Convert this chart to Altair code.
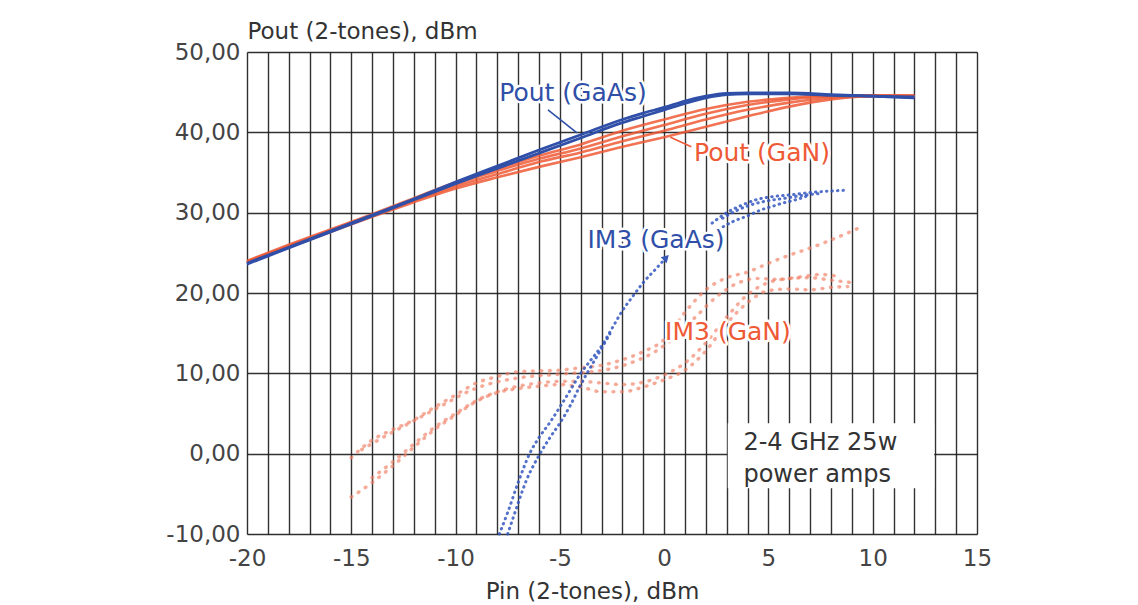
import altair as alt
import pandas as pd

# ---------------- data ----------------
pout_gaas_x = [-20, -18, -16, -14, -12, -10, -8, -6, -4, -2, -1, 0, 1, 2, 3, 4, 6, 8, 10, 12]
pout_gaas_1 = [23.7, 25.7, 27.7, 29.7, 31.7, 33.8, 35.8, 37.8, 39.7, 41.6, 42.4, 43.1, 43.9, 44.5, 44.85, 44.9, 44.9, 44.7, 44.5, 44.3]
pout_gaas_2 = [23.6, 25.6, 27.6, 29.6, 31.6, 33.6, 35.5, 37.4, 39.3, 41.2, 42.0, 42.8, 43.6, 44.3, 44.7, 44.8, 44.8, 44.6, 44.5, 44.4]

pout_gan_x = [-20, -18, -16, -14, -12, -10, -8, -6, -4, -2, 0, 2, 4, 6, 8, 10, 12]
pout_gan_1 = [23.8, 25.7, 27.6, 29.5, 31.3, 33.0, 34.4, 35.7, 36.9, 38.2, 39.4, 40.7, 42.0, 43.2, 44.1, 44.5, 44.5]
pout_gan_2 = [23.9, 25.8, 27.7, 29.6, 31.5, 33.3, 34.8, 36.3, 37.5, 38.9, 40.2, 41.6, 42.8, 43.7, 44.3, 44.5, 44.4]
pout_gan_3 = [23.9, 25.9, 27.8, 29.7, 31.6, 33.6, 35.2, 36.7, 38.0, 39.5, 40.9, 42.3, 43.4, 44.1, 44.5, 44.6, 44.5]
pout_gan_4 = [24.0, 26.0, 27.9, 29.8, 31.8, 33.8, 35.5, 37.1, 38.5, 40.2, 41.6, 42.9, 43.8, 44.3, 44.6, 44.6, 44.6]

# IM3 GaAs (lower part, below the label)
im3_gaas_a_x = [-7.9, -7.5, -7.0, -6.45, -6.0, -5.5, -5.0, -4.5, -4.0, -3.5, -3.0, -2.5, -2.0, -1.5, -1.0, -0.4, 0.1]
im3_gaas_a_y = [-10.0, -7.3, -3.6, 0.0, 2.0, 3.8, 5.8, 7.9, 10.0, 11.7, 13.4, 15.6, 17.8, 19.6, 21.3, 23.0, 24.4]
im3_gaas_b_x = [-7.5, -7.15, -6.6, -5.95, -5.5, -5.0, -4.5, -4.1, -3.7, -3.2, -2.6]
im3_gaas_b_y = [-10.0, -7.3, -3.3, 0.0, 1.9, 3.8, 6.0, 8.1, 10.0, 12.2, 14.9]
# IM3 GaAs (upper part, right of the label)
im3_gaas_c_x = [2.3, 3.0, 3.7, 4.4, 5.2, 6.0, 7.0, 8.0, 8.8]
im3_gaas_c_y = [28.7, 30.0, 30.9, 31.6, 32.0, 32.2, 32.5, 32.7, 32.8]
im3_gaas_d_x = [2.8, 3.5, 4.2, 5.0, 5.8, 6.5, 7.5]
im3_gaas_d_y = [29.3, 30.3, 31.0, 31.5, 31.8, 32.1, 32.4]
im3_gaas_e_x = [2.6, 3.3, 4.0, 4.6, 5.2, 5.7, 6.3, 7.0]
im3_gaas_e_y = [27.9, 28.9, 29.6, 30.3, 30.8, 31.2, 31.6, 32.2]

# IM3 GaN
im3_gan_1_x = [-15, -14, -13, -12, -11, -10, -9, -8, -7, -6, -5, -4, -3, -2, -1, 0, 1, 2, 3, 4, 5, 6, 7, 8, 9, 9.5]
im3_gan_1_y = [-0.5, 1.7, 3.0, 4.2, 5.8, 7.3, 8.8, 9.6, 10.2, 10.3, 10.4, 10.7, 11.0, 11.7, 12.7, 14.2, 17.6, 20.4, 21.9, 22.6, 23.7, 24.7, 25.6, 26.6, 27.7, 28.3]
im3_gan_2_x = [-14.5, -13.5, -12.5, -11.5, -10.5, -9.5, -8.5, -7.5, -6.5, -5.5, -4.5, -3.5, -2.5, -1.5, -0.5, 0.5, 1.5, 2.5, 3.5, 4.5, 5.5, 6.5, 7.5, 8.5]
im3_gan_2_y = [0.5, 2.0, 3.4, 4.8, 6.2, 7.6, 8.6, 9.2, 9.6, 9.8, 10.0, 10.2, 10.6, 11.4, 12.6, 14.5, 17.0, 19.5, 21.2, 21.8, 21.7, 22.0, 22.3, 22.0]
im3_gan_3_x = [-15, -14, -13, -12, -11, -10, -9, -8, -7, -6, -5, -4, -3, -2, -1, 0, 1, 2, 3, 4, 5, 6, 7, 8, 8.8]
im3_gan_3_y = [-5.4, -3.6, -1.5, 0.8, 3.0, 4.8, 6.5, 7.6, 8.1, 8.4, 8.6, 8.3, 7.7, 7.7, 8.3, 9.2, 10.4, 12.8, 16.2, 18.8, 20.3, 20.5, 20.4, 20.7, 20.8]
im3_gan_4_x = [-14, -13, -12, -11, -10, -9, -8, -7, -6, -5, -4, -3, -2, -1, 0, 1, 2, 3, 4, 5, 6, 7, 8, 9]
im3_gan_4_y = [-3.0, -1.0, 1.2, 3.3, 5.0, 6.6, 7.7, 8.4, 8.8, 9.0, 9.0, 8.8, 8.6, 8.9, 9.8, 11.3, 13.8, 17.0, 19.8, 21.3, 21.8, 21.9, 21.6, 21.3]

# labels
label_text = ["Pout (GaAs)", "Pout (GaN)", "IM3 (GaAs)", "IM3 (GaN)"]
label_x = [-4.37, 4.69, -0.39, 3.06]
label_y = [44.9, 37.4, 26.6, 15.2]
label_group = ["GaAs", "GaN", "GaAs", "GaN"]

# leader lines
leader_x = [-5.57, 0.3]
leader_y = [42.8, 39.4]
leader_x2 = [-4.18, 1.3]
leader_y2 = [39.94, 38.2]
leader_group = ["GaAs", "GaN"]

# arrow head of IM3 (GaAs) pointer
arrow_x = [0.1]
arrow_y = [24.4]

# note box
note_x, note_x2, note_y, note_y2 = [3.05], [12.95], [-4.3], [3.8]
note_lines = ["2-4 GHz 25w", "power amps"]
note_line_x = [3.8, 3.8]
note_line_y = [1.33, -2.65]

x_ticks = list(range(-20, 16))
y_ticks = [-10, 0, 10, 20, 30, 40, 50]

# ---------------- tables ----------------
def long(xs, ys, name):
    return pd.DataFrame({"x": xs, "y": ys, "curve": name})

pout_gaas = pd.concat([long(pout_gaas_x, pout_gaas_1, "a"), long(pout_gaas_x, pout_gaas_2, "b")])
pout_gan = pd.concat([long(pout_gan_x, pout_gan_1, "1"), long(pout_gan_x, pout_gan_2, "2"),
                      long(pout_gan_x, pout_gan_3, "3"), long(pout_gan_x, pout_gan_4, "4")])
im3_gaas = pd.concat([long(im3_gaas_a_x, im3_gaas_a_y, "a"), long(im3_gaas_b_x, im3_gaas_b_y, "b"),
                      long(im3_gaas_c_x, im3_gaas_c_y, "c"), long(im3_gaas_d_x, im3_gaas_d_y, "d"),
                      long(im3_gaas_e_x, im3_gaas_e_y, "e")])
im3_gan = pd.concat([long(im3_gan_1_x, im3_gan_1_y, "1"), long(im3_gan_2_x, im3_gan_2_y, "2"),
                     long(im3_gan_3_x, im3_gan_3_y, "3"), long(im3_gan_4_x, im3_gan_4_y, "4")])
labels = pd.DataFrame({"t": label_text, "x": label_x, "y": label_y, "g": label_group})
leaders = pd.DataFrame({"x": leader_x, "y": leader_y, "x2": leader_x2, "y2": leader_y2, "g": leader_group})
arrow = pd.DataFrame({"x": arrow_x, "y": arrow_y})
note_box = pd.DataFrame({"x": note_x, "x2": note_x2, "y": note_y, "y2": note_y2})
note_txt = pd.DataFrame({"t": note_lines, "x": note_line_x, "y": note_line_y})

BLUE = "#2f4fa8"
BLUE_TXT = "#3a58b8"
ORANGE = "#ee5a36"
ORANGE_TXT = "#f07a58"
FONT = "DejaVu Sans"

xs = alt.Scale(domain=[-20, 15], nice=False, zero=False)
ys = alt.Scale(domain=[-10, 50], nice=False, zero=False)

x_axis = alt.Axis(values=x_ticks, tickCount=60, grid=True, ticks=False, domain=False,
                  labelExpr="datum.value % 5 === 0 ? '' + datum.value : ''", labelFlush=False,
                  labelFont=FONT, labelFontSize=23, labelColor="#444", labelPadding=13,
                  title="Pin (2-tones), dBm", titleFont=FONT, titleFontSize=23, titleFontWeight="normal",
                  titleColor="#333", titleX=345, titleY=64, titleBaseline="alphabetic", titleAlign="center",
                  gridColor="#1c1c1c", gridWidth=1.4, gridOpacity=0.9, labelOverlap=False)
y_axis = alt.Axis(values=y_ticks, tickCount=20, grid=True, ticks=False, domain=False,
                  labelExpr="datum.value + ',00'", labelFlush=False,
                  labelFont=FONT, labelFontSize=23, labelColor="#444", labelPadding=7,
                  title="Pout (2-tones), dBm", titleFont=FONT, titleFontSize=23, titleFontWeight="normal",
                  titleColor="#333", titleAngle=0, titleAlign="left", titleBaseline="alphabetic",
                  titleX=0, titleY=-14,
                  gridColor="#1c1c1c", gridWidth=1.4, gridOpacity=0.9)

X = lambda f="x": alt.X(f"{f}:Q", scale=xs, axis=x_axis)
Y = lambda f="y": alt.Y(f"{f}:Q", scale=ys, axis=y_axis)

base_axes = alt.Chart(pout_gan).mark_line(opacity=0).encode(x=X(), y=Y(), detail="curve:N")

l_pout_gan = alt.Chart(pout_gan).mark_line(color=ORANGE, strokeWidth=2.6, opacity=0.85, interpolate="monotone").encode(
    x="x:Q", y="y:Q", detail="curve:N")
l_pout_gaas = alt.Chart(pout_gaas).mark_line(color=BLUE, strokeWidth=2.8, interpolate="monotone").encode(
    x="x:Q", y="y:Q", detail="curve:N")
l_im3_gan = alt.Chart(im3_gan).mark_line(color="#f07a5e", strokeWidth=3.6, opacity=0.6, strokeDash=[0.5, 8],
                                         strokeCap="round", interpolate="monotone").encode(
    x="x:Q", y="y:Q", detail="curve:N")
l_im3_gan_thin = alt.Chart(im3_gan).mark_line(color="#f5a090", strokeWidth=1, opacity=0.45, strokeDash=[3, 5.5],
                                              interpolate="monotone").encode(
    x="x:Q", y="y:Q", detail="curve:N")
l_im3_gaas = alt.Chart(im3_gaas).mark_line(color="#3558c0", strokeWidth=3, opacity=0.85, strokeDash=[0.5, 5],
                                           strokeCap="round", interpolate="monotone").encode(
    x="x:Q", y="y:Q", detail="curve:N")

l_leaders = alt.Chart(leaders).mark_rule(strokeWidth=1.6).encode(
    x="x:Q", y="y:Q", x2="x2:Q", y2="y2:Q",
    color=alt.Color("g:N", scale=alt.Scale(domain=["GaAs", "GaN"], range=[BLUE, ORANGE]), legend=None))
l_arrow = alt.Chart(arrow).mark_point(shape="triangle-up", filled=True, size=70, angle=45, color=BLUE_TXT,
                                      opacity=1).encode(x="x:Q", y="y:Q")

lab_color = alt.Color("g:N", scale=alt.Scale(domain=["GaAs", "GaN"], range=[BLUE_TXT, ORANGE_TXT]), legend=None)
l_halo = alt.Chart(labels).mark_text(font=FONT, fontSize=25, align="center", baseline="middle",
                                     stroke="white", strokeWidth=5, strokeJoin="round", fill="white").encode(
    x="x:Q", y="y:Q", text="t:N")
l_labels = alt.Chart(labels).mark_text(font=FONT, fontSize=25, align="center", baseline="middle").encode(
    x="x:Q", y="y:Q", text="t:N", color=lab_color)

l_box = alt.Chart(note_box).mark_rect(color="white").encode(x="x:Q", x2="x2:Q", y="y:Q", y2="y2:Q")
l_note = alt.Chart(note_txt).mark_text(font=FONT, fontSize=24, align="left", baseline="middle",
                                       color="#333").encode(x="x:Q", y="y:Q", text="t:N")

chart = alt.layer(base_axes, l_pout_gan, l_pout_gaas, l_im3_gan_thin, l_im3_gan, l_im3_gaas, l_leaders, l_arrow,
                  l_halo, l_labels, l_box, l_note).properties(
    width=730, height=482,
    autosize=alt.AutoSizeParams(type="none"),
    padding={"left": 239, "top": 44, "right": 150, "bottom": 70},
).configure_view(stroke=None).configure(background="white")

chart.save("out.html", embed_options={"renderer": "svg", "actions": False})
